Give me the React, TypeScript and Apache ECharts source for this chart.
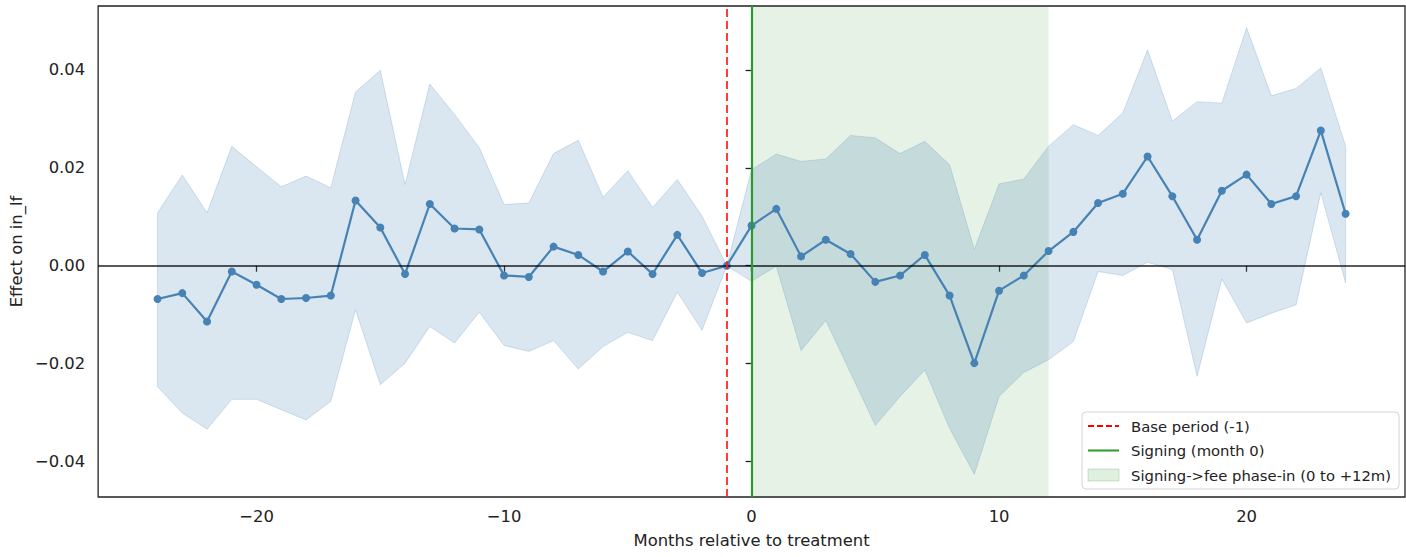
import React, { useEffect, useRef } from "react";
import * as echarts from "echarts";

// Event-time months around treatment
const months = [
  -24, -23, -22, -21, -20, -19, -18, -17, -16, -15, -14, -13, -12, -11, -10, -9, -8, -7, -6, -5, -4, -3, -2, -1,
  0, 1, 2, 3, 4, 5, 6, 7, 8, 9, 10, 11, 12, 13, 14, 15, 16, 17, 18, 19, 20, 21, 22, 23, 24,
];

// Point estimates of the effect on in_lf
const estimate = [
  -0.0068, -0.0056, -0.0114, -0.0012, -0.0039, -0.0068, -0.0066, -0.0061, 0.0133, 0.0078, -0.0017, 0.0126,
  0.0076, 0.0074, -0.002, -0.0023, 0.0039, 0.0022, -0.0012, 0.0029, -0.0017, 0.0063, -0.0015, 0,
  0.0082, 0.0116, 0.0019, 0.0053, 0.0024, -0.0033, -0.002, 0.0022, -0.0061, -0.0199, -0.0051, -0.002, 0.003,
  0.0069, 0.0128, 0.0147, 0.0223, 0.0142, 0.0053, 0.0153, 0.0186, 0.0126, 0.0142, 0.0276, 0.0106,
];

// 95% confidence band
const ciUpper = [
  0.0108, 0.0185, 0.0108, 0.0244, 0.0202, 0.0161, 0.0183, 0.0159, 0.0355, 0.0399, 0.0166, 0.0371,
  0.0309, 0.0241, 0.0125, 0.0128, 0.0229, 0.0256, 0.014, 0.0194, 0.0119, 0.0176, 0.0101, 0,
  0.0196, 0.0228, 0.0213, 0.0218, 0.0266, 0.0261, 0.0229, 0.0254, 0.0206, 0.0033, 0.0167, 0.0177, 0.0244,
  0.0288, 0.0266, 0.0312, 0.0441, 0.0295, 0.0335, 0.0332, 0.0486, 0.0347, 0.0362, 0.0404, 0.0244,
];
const ciLower = [
  -0.0247, -0.0301, -0.0334, -0.0273, -0.0273, -0.0294, -0.0315, -0.0277, -0.009, -0.0243, -0.0199, -0.0124,
  -0.0158, -0.0095, -0.0163, -0.0175, -0.0153, -0.0211, -0.0165, -0.0136, -0.0153, -0.0054, -0.0132, 0,
  -0.0032, -0.0001, -0.0173, -0.0112, -0.0219, -0.0326, -0.0267, -0.0213, -0.0332, -0.0426, -0.0267, -0.0218,
  -0.0192, -0.0155, -0.0012, -0.002, 0.0007, -0.0008, -0.0226, -0.0027, -0.0117, -0.0097, -0.008, 0.0149, -0.0035,
];

const xTicks = [-20, -10, 0, 10, 20];
const yTicks = [-0.04, -0.02, 0, 0.02, 0.04];

const basePeriod = -1;
const signingMonth = 0;
const phaseInEnd = 12;

const BASE_NAME = "Base period (-1)";
const SIGN_NAME = "Signing (month 0)";
const PHASE_NAME = "Signing->fee phase-in (0 to +12m)";

const FONT = "DejaVu Sans";
const INK = "#222";
const STEEL = "#4682b4";

const minus = (s: string) => s.replace("-", "\u2212");

export default function App() {
  const ref = useRef<HTMLDivElement>(null);

  useEffect(() => {
    if (!ref.current) return;
    const chart = echarts.init(ref.current, undefined, { renderer: "svg" });

    const bandRows = months.map((m, i) => [m, ciLower[i], ciUpper[i]]);
    const estRows = months.map((m, i) => [m, estimate[i]]);

    chart.setOption({
      animation: false,
      backgroundColor: "#fff",
      textStyle: { fontFamily: FONT },
      grid: {
        left: 96,
        right: 1,
        top: 6,
        bottom: 60,
        show: true,
        borderColor: INK,
        borderWidth: 1.3,
        backgroundColor: "transparent",
      },
      legend: {
        left: 1082,
        top: 412,
        orient: "vertical",
        selectedMode: false,
        itemWidth: 31,
        itemHeight: 12,
        itemGap: 6.5,
        padding: [5, 8, 5, 5],
        backgroundColor: "rgba(255,255,255,0.85)",
        borderColor: "#d4d4d4",
        borderWidth: 1,
        borderRadius: 4,
        textStyle: {
          fontFamily: FONT,
          fontSize: 14.8,
          color: INK,
          lineHeight: 18,
          padding: [0, 0, 0, 7],
        },
        data: [
          { name: BASE_NAME, itemStyle: { opacity: 0 } },
          { name: SIGN_NAME, itemStyle: { opacity: 0 } },
          {
            name: PHASE_NAME,
            icon: "rect",
            itemStyle: { color: "rgba(0,128,0,0.12)", borderColor: "rgba(0,128,0,0.18)", borderWidth: 1 },
          },
        ],
      },
      xAxis: {
        type: "value",
        min: -26.4,
        max: 26.4,
        name: "Months relative to treatment",
        nameLocation: "middle",
        nameGap: 35,
        nameTextStyle: { fontFamily: FONT, fontSize: 16.4, color: INK },
        axisLine: { show: false },
        splitLine: { show: false },
        axisTick: {
          show: true,
          length: 6,
          customValues: xTicks,
          lineStyle: { color: INK, width: 1.3 },
        },
        axisLabel: {
          customValues: xTicks,
          margin: 11,
          fontFamily: FONT,
          fontSize: 16.4,
          color: INK,
          formatter: (v: number) => minus(String(v)),
        },
      },
      yAxis: {
        type: "value",
        min: -0.04724,
        max: 0.05304,
        name: "Effect on in_lf",
        nameLocation: "middle",
        nameGap: 70,
        nameRotate: 90,
        nameTextStyle: { fontFamily: FONT, fontSize: 16.4, color: INK },
        axisLine: { show: false },
        splitLine: { show: false },
        axisTick: {
          show: true,
          length: 6,
          customValues: yTicks,
          lineStyle: { color: INK, width: 1.3 },
        },
        axisLabel: {
          customValues: yTicks,
          margin: 13,
          fontFamily: FONT,
          fontSize: 16.4,
          color: INK,
          formatter: (v: number) => minus(v.toFixed(2)),
        },
      },
      series: [
        {
          name: "95% CI",
          type: "custom",
          z: 1,
          silent: true,
          data: bandRows,
          encode: { x: 0, y: [1, 2] },
          renderItem: (params: any, api: any) => {
            if (params.dataIndex !== 0) return null;
            const pts: number[][] = [];
            for (let i = 0; i < months.length; i++) pts.push(api.coord([months[i], ciUpper[i]]));
            for (let i = months.length - 1; i >= 0; i--) pts.push(api.coord([months[i], ciLower[i]]));
            return {
              type: "polygon",
              shape: { points: pts },
              style: { fill: "rgba(70,130,180,0.2)", stroke: "rgba(70,130,180,0.22)", lineWidth: 1 },
            };
          },
        },
        {
          name: PHASE_NAME,
          type: "line",
          z: 2,
          data: [],
          itemStyle: { color: "rgba(0,128,0,0.12)" },
          lineStyle: { width: 0 },
          markArea: {
            silent: true,
            itemStyle: { color: "rgba(0,128,0,0.1)" },
            data: [[{ xAxis: signingMonth }, { xAxis: phaseInEnd }]],
          },
        },
        {
          name: "Estimate",
          type: "line",
          z: 3,
          data: estRows,
          symbol: "circle",
          symbolSize: 8,
          itemStyle: { color: STEEL },
          lineStyle: { color: STEEL, width: 2.2 },
          markLine: {
            silent: true,
            symbol: ["none", "none"],
            label: { show: false },
            lineStyle: { color: "rgba(0,0,0,0.65)", width: 1.8, type: "solid" },
            data: [{ yAxis: 0 }],
          },
        },
        {
          name: BASE_NAME,
          type: "line",
          z: 4,
          data: [],
          symbol: "none",
          itemStyle: { color: "#ff0000" },
          lineStyle: { color: "#ff0000", width: 1.6, type: [6, 3] },
          markLine: {
            silent: true,
            symbol: ["none", "none"],
            label: { show: false },
            lineStyle: { color: "#ff1a1a", width: 1.7, type: [8, 4] },
            data: [{ xAxis: basePeriod }],
          },
        },
        {
          name: SIGN_NAME,
          type: "line",
          z: 4,
          data: [],
          symbol: "none",
          itemStyle: { color: "#008000" },
          lineStyle: { color: "#2a9a2a", width: 2.4 },
          markLine: {
            silent: true,
            symbol: ["none", "none"],
            label: { show: false },
            lineStyle: { color: "#2a9a2a", width: 2.2, type: "solid" },
            data: [{ xAxis: signingMonth }],
          },
        },
      ],
    });

    return () => chart.dispose();
  }, []);

  return (
    <div
      ref={ref}
      style={{ position: "absolute", left: 0, top: 0, width: 1406, height: 557 }}
    />
  );
}
